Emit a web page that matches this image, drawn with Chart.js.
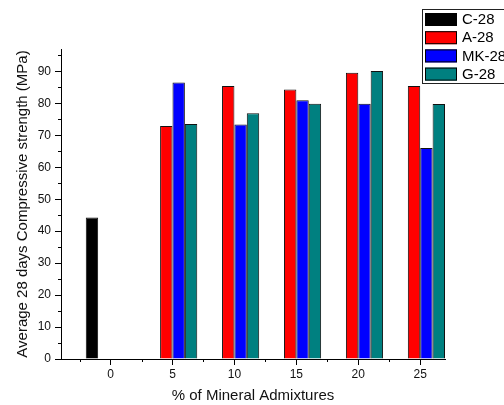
<!DOCTYPE html>
<html>
<head>
<meta charset="utf-8">
<script src="https://cdn.jsdelivr.net/npm/chart.js@4"></script>
<style>
  html, body { margin: 0; padding: 0; background: #fff; }
  #wrap { width: 504px; height: 405px; }
</style>
</head>
<body>
<div id="wrap"><canvas id="barChart"></canvas></div>
<script>
const seriesNames = ["C-28", "A-28", "MK-28", "G-28"];
const seriesColors = ["#000000", "#ff0000", "#0000ff", "#008080"];
const controlX = [0];
const controlValues = [44.3];
const admixX = [5, 10, 15, 20, 25];
const aValues = [72.9, 85.4, 84.3, 89.6, 85.4];
const mkValues = [86.5, 73.4, 81.0, 79.9, 66.0];
const gValues = [73.5, 76.9, 79.9, 90.1, 79.8];
const xTicks = [0, 5, 10, 15, 20, 25];
const xMinorTicks = [-2.5, 2.5, 7.5, 12.5, 17.5, 22.5];
const yTicks = [0, 10, 20, 30, 40, 50, 60, 70, 80, 90];
const yMinorTicks = [5, 15, 25, 35, 45, 55, 65, 75, 85, 95];

Chart.defaults.font.family = "'Liberation Sans', Arial, sans-serif";
Chart.defaults.color = "#111";

const toPoints = (xs, ys) => xs.map((x, i) => ({ x: x, y: ys[i] }));
const seriesData = [
  toPoints(controlX, controlValues),
  toPoints(admixX, aValues),
  toPoints(admixX, mkValues),
  toPoints(admixX, gValues)
];

// small minor ticks, like the original plot
const minorTicks = {
  id: "minorTicks",
  afterDraw(chart) {
    const { ctx, scales: { x, y } } = chart;
    ctx.save();
    ctx.strokeStyle = "#000";
    ctx.lineWidth = 1;
    ctx.beginPath();
    yMinorTicks.forEach(v => {
      const py = Math.round(y.getPixelForValue(v)) + 0.5;
      ctx.moveTo(y.right - 3, py);
      ctx.lineTo(y.right, py);
    });
    xMinorTicks.forEach(v => {
      const px = Math.round(x.getPixelForValue(v)) + 0.5;
      ctx.moveTo(px, x.top);
      ctx.lineTo(px, x.top + 3);
    });
    ctx.stroke();
    ctx.restore();
  }
};

// boxed legend in the top right corner
const boxLegend = {
  id: "boxLegend",
  afterDraw(chart) {
    const ctx = chart.ctx;
    const left = 422, top = 9.5, rowH = 18.2;
    ctx.save();
    ctx.fillStyle = "#fff";
    ctx.fillRect(left, top, 100, 74);
    ctx.strokeStyle = "#222";
    ctx.lineWidth = 1;
    ctx.strokeRect(left + 0.5, top, 100, 74);
    ctx.font = "15px 'Liberation Sans', Arial, sans-serif";
    ctx.textBaseline = "middle";
    chart.data.datasets.forEach((ds, i) => {
      const cy = top + 10 + i * rowH;
      ctx.fillStyle = ds.backgroundColor;
      ctx.fillRect(425, cy - 6.5, 32, 13);
      ctx.strokeStyle = "#000";
      ctx.strokeRect(425.5, cy - 6, 31, 12);
      ctx.fillStyle = "#000";
      ctx.fillText(ds.label, 462, cy + 0.5);
    });
    ctx.restore();
  }
};

const ctx = document.getElementById("barChart").getContext("2d");
new Chart(ctx, {
  type: "bar",
  data: {
    datasets: seriesNames.map((name, i) => ({
      label: name,
      data: seriesData[i],
      backgroundColor: seriesColors[i],
      borderColor: "#111",
      borderWidth: 1,
      categoryPercentage: 0.8,
      barPercentage: 1.0
    }))
  },
  options: {
    responsive: true,
    maintainAspectRatio: false,
    animation: false,
    layout: { padding: { top: 49, right: 59, left: 0, bottom: 0 } },
    plugins: {
      legend: { display: false },
      tooltip: { enabled: false }
    },
    scales: {
      x: {
        type: "linear",
        min: -4,
        max: 27,
        offset: false,
        afterBuildTicks: s => { s.ticks = xTicks.map(v => ({ value: v })); },
        afterFit: s => { s.height = 46; },
        grid: { offset: false, drawOnChartArea: false, drawTicks: true, tickLength: 6, color: "#000" },
        border: { display: true, color: "#000", width: 1 },
        ticks: { autoSkip: false, maxRotation: 0, padding: 2, color: "#111", font: { size: 12 } },
        title: {
          display: true,
          text: "% of Mineral Admixtures",
          color: "#111",
          font: { size: 15 },
          padding: { top: 0, bottom: 0 }
        }
      },
      y: {
        min: 0,
        max: 97,
        afterBuildTicks: s => { s.ticks = yTicks.map(v => ({ value: v })); },
        afterFit: s => { s.width = 61; },
        grid: { drawOnChartArea: false, drawTicks: true, tickLength: 6, color: "#000" },
        border: { display: true, color: "#000", width: 1 },
        ticks: { padding: 4, color: "#111", font: { size: 12 } },
        title: {
          display: true,
          text: "Average 28 days Compressive strength (MPa)",
          color: "#111",
          font: { size: 15 },
          padding: { top: 14, bottom: 0 }
        }
      }
    }
  },
  plugins: [minorTicks, boxLegend]
});
</script>
</body>
</html>
